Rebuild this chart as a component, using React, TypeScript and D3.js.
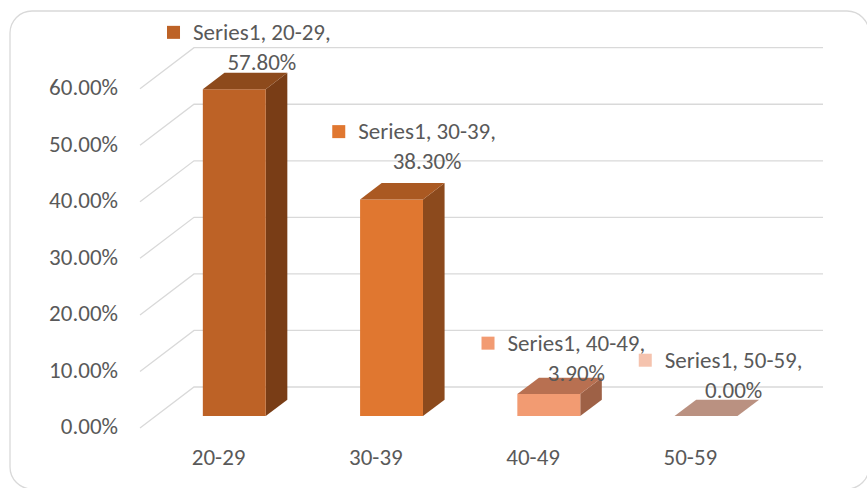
import React from 'react';
import * as d3 from 'd3';

const categories = ['20-29', '30-39', '40-49', '50-59'];
const values = [57.8, 38.3, 3.9, 0.0];
const seriesName = 'Series1';
const yTicks = [0, 10, 20, 30, 40, 50, 60];

// face colours: front, side, top, legend key
const frontColors = ['#bd6226', '#e07730', '#f29b72', '#f4c3ad'];
const sideColors = ['#793d16', '#8c4a1d', '#9e6146', '#a87c6c'];
const topColors = ['#8d4a1c', '#aa5922', '#b87051', '#ba9181'];
const keyColors = ['#bd6226', '#e07730', '#f29b72', '#f5c3ae'];

// label tweaks (Excel shuffles 3D labels a little)
const labelNudgeX = [0, 8, 0, 0];
const labelNudgeY = [0, -11, 6, 1];

const W = 867;
const H = 488;
const FONT = 'Carlito, Calibri, Lato, sans-serif';
const FS = 23;
const textColor = '#595959';
const gridColor = '#d9d9d9';

// perspective: vector from front edge of floor to back wall
const depth = { dx: 54, dy: -41 };
const barFront = 0.29;
const barBack = 0.69;

function measure(text: string) {
  const ctx = document.createElement('canvas').getContext('2d');
  if (!ctx) return text.length * FS * 0.5;
  ctx.font = `${FS}px ${FONT}`;
  return ctx.measureText(text).width;
}

export default function App() {
  const x = d3.scaleBand<string>().domain(categories).range([140, 769]).padding(0);
  const y = d3.scaleLinear().domain([0, 60]).range([428, 88.7]);

  const fmt = (v: number) => v.toFixed(2) + '%';
  const pt = (px: number, py: number, d: number) => [px + depth.dx * d, py + depth.dy * d];
  const poly = (pts: number[][]) => pts.map(p => p.join(',')).join(' ');

  return (
    <svg width={W} height={H} style={{ position: 'absolute', left: 0, top: 0 }}>
      <rect x={0} y={0} width={W} height={H} fill="#fff" />
      <rect x={10} y={11} width={859} height={478} rx={22} fill="none" stroke={gridColor} strokeWidth={1.3} />

      {/* gridlines: side wall diagonal + back wall */}
      <g stroke={gridColor} strokeWidth={1.3} fill="none">
        {yTicks.map(t => {
          const [x0, y0] = [140, y(t)];
          const [x1, y1] = pt(x0, y0, 1);
          return <polyline key={t} points={poly([[x0, y0], [x1, y1], [769 + depth.dx, y1]])} />;
        })}
      </g>

      {/* y axis labels */}
      <g fontFamily={FONT} fontSize={FS} fill={textColor} textAnchor="end">
        {yTicks.map(t => (
          <text key={t} x={118} y={y(t) + 1} dominantBaseline="middle">
            {fmt(t)}
          </text>
        ))}
      </g>

      {/* bars */}
      {categories.map((c, i) => {
        const bw = x.bandwidth() * 0.4;
        const xl = (x(c) as number) + (x.bandwidth() - bw) / 2;
        const xr = xl + bw;
        const yb = y(0);
        const yt = y(values[i]);
        const fl = pt(xl, yt, barFront);
        const fr = pt(xr, yt, barFront);
        const br = pt(xr, yt, barBack);
        const bl = pt(xl, yt, barBack);
        const frb = pt(xr, yb, barFront);
        const brb = pt(xr, yb, barBack);
        const flb = pt(xl, yb, barFront);
        const h = frb[1] - fr[1];
        return (
          <g key={c}>
            {h > 0.5 && <polygon points={poly([fr, br, brb, frb])} fill={sideColors[i]} />}
            {h > 0.5 && <polygon points={poly([fl, fr, frb, flb])} fill={frontColors[i]} />}
            <polygon points={poly([fl, fr, br, bl])} fill={topColors[i]} />
          </g>
        );
      })}

      {/* x axis labels */}
      <g fontFamily={FONT} fontSize={FS} fill={textColor} textAnchor="middle">
        {categories.map(c => (
          <text key={c} x={(x(c) as number) + x.bandwidth() / 2} y={465}>
            {c}
          </text>
        ))}
      </g>

      {/* data labels */}
      <g fontFamily={FONT} fontSize={FS} fill={textColor}>
        {categories.map((c, i) => {
          const cx = (x(c) as number) + x.bandwidth() / 2;
          const [bx, by] = pt(cx, y(values[i]), barBack);
          const tx = bx + 6 + labelNudgeX[i];
          const b2 = by - 3 + labelNudgeY[i];
          const b1 = b2 - 30;
          const line1 = `${seriesName}, ${c},`;
          const w1 = measure(line1);
          return (
            <g key={c}>
              <rect x={tx - w1 / 2 - 26} y={b1 - 14} width={13} height={13} fill={keyColors[i]} />
              <text x={tx} y={b1} textAnchor="middle">
                {line1}
              </text>
              <text x={tx} y={b2} textAnchor="middle">
                {fmt(values[i])}
              </text>
            </g>
          );
        })}
      </g>
    </svg>
  );
}
